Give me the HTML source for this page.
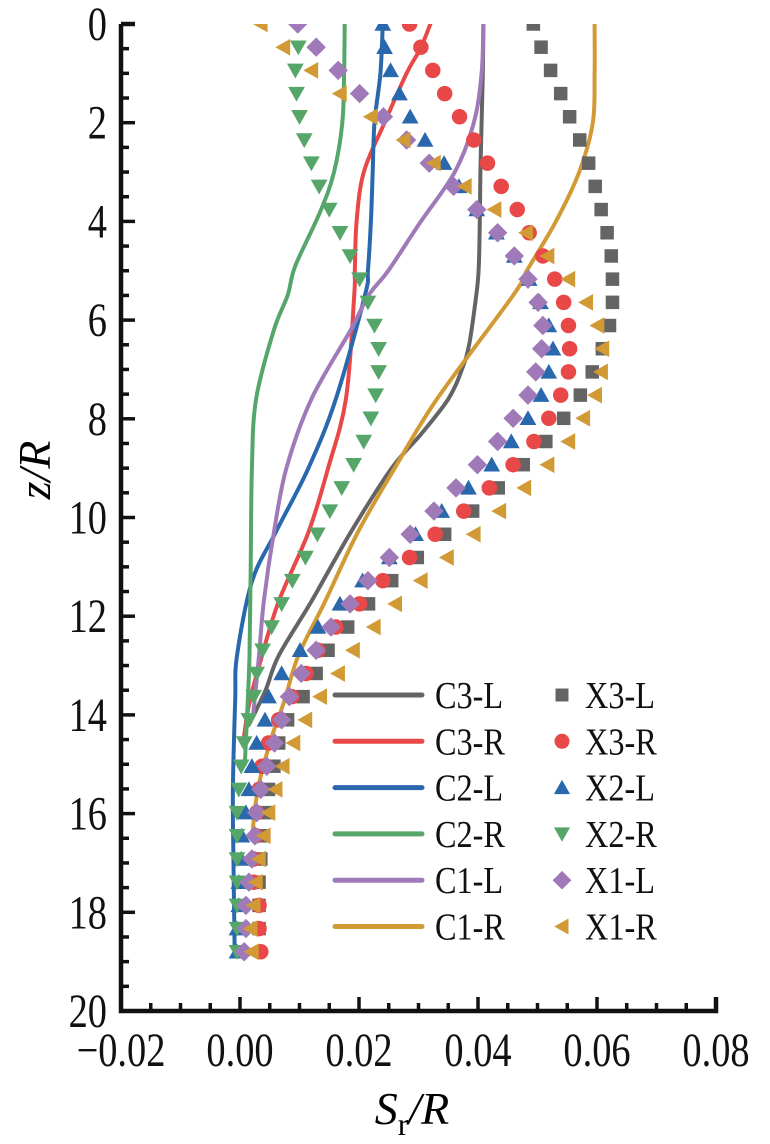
<!DOCTYPE html>
<html><head><meta charset="utf-8"><style>
html,body{margin:0;padding:0;background:#fff;}
svg{display:block;font-family:"Liberation Serif",serif;}
</style></head><body>
<svg id="chart" width="770" height="1144" viewBox="0 0 770 1144" xmlns="http://www.w3.org/2000/svg">
<defs><clipPath id="pc"><rect x="100" y="24" width="640" height="990"/></clipPath></defs>
<g id="plot" clip-path="url(#pc)"></g>
<g id="axes"></g>
<text x="412" y="1124" font-size="46" text-anchor="middle" font-style="italic">S<tspan font-style="normal" font-size="32" dy="11">r</tspan><tspan dy="-11">/R</tspan></text>
<text transform="translate(50,470) rotate(-90)" font-size="46" text-anchor="middle" font-style="italic">z/R</text>
<g id="legend"></g>
</svg>
<script>
// ---- data ----
const xTicks = [-0.02, 0.00, 0.02, 0.04, 0.06, 0.08];
const xTickLabels = ["\u22120.02", "0.00", "0.02", "0.04", "0.06", "0.08"];
const yTicks = [0, 2, 4, 6, 8, 10, 12, 14, 16, 18, 20];
const markerStep = 0.47;
// simulation lines (z, S/R in 1e-3 units)
const c3LZ = [0,1,2,3,4,5,5.6,6.5,7,7.6,8.3,9,10.3,11.7,12.8,13.5,14.2];
const c3LV = [40.9,40.8,40.6,40.4,40.3,40.1,39.6,38.5,37.3,35.0,30.5,25.5,18.6,12,6.5,4.3,1.5];
const c3RZ = [0,0.5,1,2,3,4,5,5.5,7.6,9,10.3,11.7,12.8,13.8,14.6];
const c3RV = [32.0,30.3,28.0,24.3,20.8,19.6,19.3,19.2,17.8,14.8,11.5,6.5,3.7,1.5,0.5];
const c2LZ = [0,1,2,3,4,5,5.5,7.6,9,10.3,11.3,12.8,13.7,15.5,17,18.7];
const c2LV = [24.0,23.6,22.6,22.3,22.0,21.5,21.0,16.1,11.5,6.0,2.0,-0.5,-0.8,-1.2,-1.1,-0.9];
const c2RZ = [0,1,2,3,3.8,4.9,5.5,6.2,7.6,9,11,12.8,14,15];
const c2RV = [17.6,17.5,17.2,15.8,13.5,9.3,8.0,5.7,2.7,2.0,1.8,1.6,1.2,0.8];
const c1LZ = [0,1,2,3,4,5,5.5,6.2,7.6,9,10.3,11.7,12.8,14];
const c1LV = [40.9,40.6,39.3,36.1,30.4,24.9,21.6,18.6,12,7.8,5.7,4.0,3.2,2.2];
const c1RZ = [0,1,2,3,4,5,5.5,7.6,9,10.3,11.7,12.8,13.7,14.5,15.5,16.5];
const c1RV = [59.6,59.6,59.3,57.0,53.1,48.2,45.9,33.1,26,19.8,14.3,9.8,7.5,5.2,3.0,2.0];
// experimental markers (S/R in 1e-3 units, z = index * markerStep)
const x3L = [49.3,50.6,52.2,53.9,55.4,57.1,58.6,59.7,60.7,61.7,62.4,62.6,62.6,62.1,60.9,59.2,57.2,54.4,51.4,47.6,43.4,39.1,34.4,29.8,25.5,21.6,18.1,14.8,12.8,10.6,8.0,6.5,5.7,4.8,4.3,4.0,3.5,3.2,3.2,3.2];
const x3R = [28.5,30.4,32.4,34.4,36.9,39.3,41.6,43.9,46.6,48.6,50.9,52.9,54.4,55.2,55.4,55.2,53.9,51.9,49.4,45.9,41.9,37.6,32.8,28.5,24.0,20.1,16.1,13.1,11.1,8.7,6.5,4.8,3.7,3.2,2.8,2.7,2.3,2.3,3.2,3.2,3.5];
const x2L = [24.0,24.3,25.3,26.8,28.6,31.1,34.3,36.8,39.8,43.1,46.1,48.6,50.5,51.9,52.6,51.9,50.6,48.4,45.6,42.3,38.4,33.9,29.5,25.1,20.6,16.8,13.1,10.1,7.0,4.8,4.2,2.8,2.0,1.5,1.0,0.3,0.2,-0.2,-0.2,-0.5,-0.5];
const x2R = [9.8,9.8,9.3,9.5,10.0,10.8,12.0,13.3,15.0,16.8,18.5,20.1,21.5,22.6,23.3,23.3,22.8,22.0,20.8,19.1,17.1,15.1,13.0,11.0,8.8,7.0,5.3,3.8,2.8,2.3,1.5,0.7,0.2,-0.2,-0.5,-0.5,-0.5,-0.5,-0.5,-0.5,-0.5];
const x1L = [9.7,12.8,16.5,20.1,24.1,28.0,31.8,35.9,39.8,43.3,46.1,48.4,50.1,50.9,50.7,49.7,48.4,45.9,43.3,39.9,36.3,32.6,28.6,25.1,21.5,18.5,15.3,12.8,10.3,8.3,7.0,5.8,4.5,3.5,2.8,2.5,2.0,1.5,1.0,1.0,0.7];
const x1R = [3.5,7.3,12.0,16.8,22.0,27.5,32.6,37.8,42.8,48.1,51.7,55.2,58.2,60.1,60.9,60.7,59.7,57.7,55.2,51.7,47.8,43.6,39.3,34.8,30.4,26.1,22.5,19.0,16.5,13.5,11.0,9.0,7.2,6.0,4.8,4.0,3.2,2.7,2.3,1.8,2.0];

const lineNames = ["C3-L","C3-R","C2-L","C2-R","C1-L","C1-R"];
const markNames = ["X3-L","X3-R","X2-L","X2-R","X1-L","X1-R"];
const colors = ["#646464","#e84848","#2a68ae","#56a66a","#a07ab8","#d29a34"];

// ---- scales ----
const X0 = 240, XS = 5950, Y0 = 24, YS = 49.35;
function sx(v){ return X0 + XS*v; }
function sy(z){ return Y0 + YS*z; }
const NS = "http://www.w3.org/2000/svg";
function mk(tag, attrs, parent){ const e=document.createElementNS(NS,tag); for(const k in attrs) e.setAttribute(k,attrs[k]); parent.appendChild(e); return e; }

const plot = document.getElementById('plot');
const axes = document.getElementById('axes');
const legend = document.getElementById('legend');

function curvePath(zs, vs){
  const p = zs.map((z,i)=>[sx(vs[i]/1000), sy(z)]);
  let d = "M"+p[0][0].toFixed(1)+","+p[0][1].toFixed(1);
  for(let i=0;i<p.length-1;i++){
    const p0=p[Math.max(0,i-1)], p1=p[i], p2=p[i+1], p3=p[Math.min(p.length-1,i+2)];
    const c1=[p1[0]+(p2[0]-p0[0])/6, p1[1]+(p2[1]-p0[1])/6];
    const c2=[p2[0]-(p3[0]-p1[0])/6, p2[1]-(p3[1]-p1[1])/6];
    d += "C"+c1[0].toFixed(1)+","+c1[1].toFixed(1)+" "+c2[0].toFixed(1)+","+c2[1].toFixed(1)+" "+p2[0].toFixed(1)+","+p2[1].toFixed(1);
  }
  return d;
}

function marker(kind, cx, cy, s, color, parent){
  let e;
  if(kind===0) e = mk('rect',{x:cx-s/2,y:cy-s/2,width:s,height:s,fill:color},parent);
  else if(kind===1) e = mk('circle',{cx:cx,cy:cy,r:s/2+1,fill:color},parent);
  else if(kind===2) e = mk('polygon',{points:`${cx},${cy-s*0.6} ${cx-s*0.62},${cy+s*0.5} ${cx+s*0.62},${cy+s*0.5}`,fill:color},parent);
  else if(kind===3) e = mk('polygon',{points:`${cx},${cy+s*0.6} ${cx-s*0.62},${cy-s*0.5} ${cx+s*0.62},${cy-s*0.5}`,fill:color},parent);
  else if(kind===4) e = mk('polygon',{points:`${cx},${cy-s*0.72} ${cx+s*0.72},${cy} ${cx},${cy+s*0.72} ${cx-s*0.72},${cy}`,fill:color},parent);
  else e = mk('polygon',{points:`${cx-s*0.6},${cy} ${cx+s*0.5},${cy-s*0.62} ${cx+s*0.5},${cy+s*0.62}`,fill:color},parent);
  return e;
}

// ---- lines ----
const lineZ = [c3LZ,c3RZ,c2LZ,c2RZ,c1LZ,c1RZ];
const lineV = [c3LV,c3RV,c2LV,c2RV,c1LV,c1RV];
for(let k=0;k<6;k++){
  const p = mk('path',{d:curvePath(lineZ[k],lineV[k]),fill:'none',stroke:colors[k],'stroke-width':4,'stroke-linecap':'round'},plot);
  
  
}
// ---- markers ----
const markSeries = [x3L,x3R,x2L,x2R,x1L,x1R];
for(let k=0;k<6;k++){
  const g = mk('g',{},plot);
  
  
  markSeries[k].forEach((v,i)=>{
    const m = marker(k, sx(v/1000), sy(i*markerStep), 13.5, colors[k], g);
    
    
  });
}

// ---- axes ----
const xl = sx(-0.02), xr = sx(0.08), yt = sy(0), yb = sy(20);
const ax = mk('path',{d:`M${xl},${yt} L${xl},${yb} L${xr},${yb} L${xr},${yb-14}`,fill:'none',stroke:'#111','stroke-width':4.5},axes);


mk('line',{x1:xl,y1:yt,x2:xl+14,y2:yt,stroke:'#111','stroke-width':4.5},axes);
for(let v=-0.02; v<=0.0801; v+=0.005){
  const major = Math.abs(Math.round(v*1000)%20)===0;
  const t = mk('line',{x1:sx(v),y1:yb,x2:sx(v),y2:yb-(major?14:8),stroke:'#111','stroke-width':3.5},axes);
  
  
}
xTicks.forEach((v,i)=>{
  const t = mk('text',{transform:`translate(${sx(v)},1066) scale(0.8,1)`,'font-size':48,'text-anchor':'middle',fill:'#111'},axes);
  t.textContent = xTickLabels[i];
  
  
});
for(let z=0; z<=20; z+=0.5){
  const major = z%2===0;
  const t = mk('line',{x1:xl,y1:sy(z),x2:xl+(major?14:8),y2:sy(z),stroke:'#111','stroke-width':3.5},axes);
  
  
}
yTicks.forEach(z=>{
  const t = mk('text',{transform:`translate(107,${sy(z)+16}) scale(0.8,1)`,'font-size':48,'text-anchor':'end',fill:'#111'},axes);
  t.textContent = String(z);
  
  
});

// ---- legend ----
for(let k=0;k<6;k++){
  const y = 695 + k*46.3;
  const e1 = mk('g',{},legend);
  
  
  mk('line',{x1:335,y1:y,x2:422,y2:y,stroke:colors[k],'stroke-width':5,'stroke-linecap':'round'},e1);
  const t1 = mk('text',{transform:`translate(435,${y+13}) scale(0.85,1)`,'font-size':38,fill:'#111'},e1);
  t1.textContent = lineNames[k];
  const e2 = mk('g',{},legend);
  
  
  marker(k, 562, y, 13, colors[k], e2);
  const t2 = mk('text',{transform:`translate(585,${y+13}) scale(0.85,1)`,'font-size':38,fill:'#111'},e2);
  t2.textContent = markNames[k];
}
</script>
</body></html>
